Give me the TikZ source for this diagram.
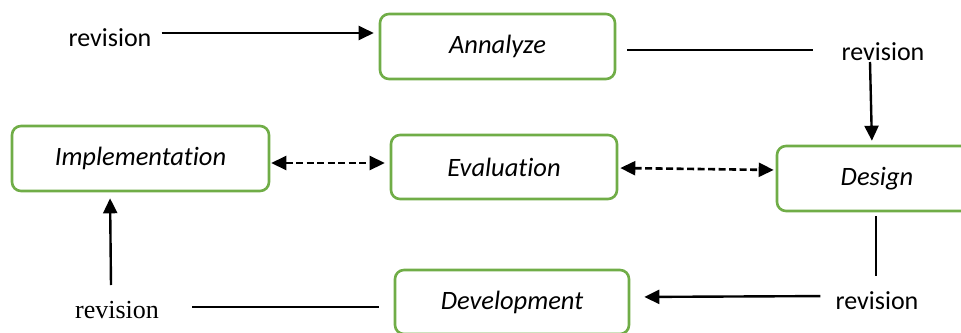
\documentclass[tikz,border=0pt]{standalone}
\usepackage{fontspec}
\setmainfont[Ligatures=NoCommon]{Carlito}
\newfontfamily\serifrev{Liberation Serif}
\usetikzlibrary{arrows.meta,calc}
\definecolor{boxgreen}{HTML}{70AD47}
\begin{document}
\begin{tikzpicture}[x=1pt,y=-1pt,
  box/.style={draw=boxgreen,line width=2.6pt,rounded corners=9pt,fill=white,
    font=\fontsize{26.5}{30}\selectfont\itshape,inner sep=0pt},
  rev/.style={font=\fontsize{26}{30}\selectfont,inner sep=0pt},
  tip/.tip={Triangle[length=15pt,width=14pt]},
  arr/.style={line width=2.4pt,-tip},
  darr/.style={line width=2.6pt,dash pattern=on 7pt off 3.5pt,tip-tip},
  ln/.style={line width=1.8pt}]
\useasboundingbox (0,0) rectangle (961,332);
\clip (0,0) rectangle (961,332);
\node[box,minimum width=235pt,minimum height=65pt] (an) at (497.5,46.5) {Annalyze};
\node[box,minimum width=257pt,minimum height=65pt] (im) at (140.5,158.5) {Implementation};
\node[box,minimum width=226pt,minimum height=64pt] (ev) at (504,167) {Evaluation};
\node[box,minimum width=200pt,minimum height=65pt] (de) at (877,178.5) {Design};
\node[box,minimum width=234pt,minimum height=64pt] (dv) at (512,302) {Development};
\node[rev] (r1) at (110,38) {revision};
\node[rev] (r2) at (883,52) {revision};
\node[rev] (r3) at (877,301) {revision};
\node[rev,font=\fontsize{26}{30}\selectfont\serifrev] (r4) at (117,310) {revision};
\coordinate (c1) at (813,50);
\coordinate (c2) at (870,62);
\coordinate (c3) at (876,276);
\coordinate (c4) at (192,307);
\coordinate (c5) at (111,285);
\draw[arr,shorten <=10pt,shorten >=5pt] (r1.east |- 0,33) -- (an.west |- 0,33);
\draw[line width=1.4pt,shorten <=11pt] (an.east |- 0,50) -- (c1);
\draw[arr,shorten >=4pt] (c2) -- (de.north -| 872,0);
\draw[darr,shorten <=1pt,shorten >=5pt] (im.east |- 0,163) -- (ev.west |- 0,163);
\draw[darr,shorten <=2pt,shorten >=2pt] (ev.east |- 0,168) -- (de.west |- 0,170);
\draw[ln,shorten <=4pt] (de.south -| c3) -- (c3);
\draw[arr,shorten <=15pt,shorten >=14pt] (r3.west |- 0,296) -- (dv.east |- 0,297);
\draw[ln,shorten <=15pt] (dv.west |- c4) -- (c4);
\draw[arr,shorten >=6pt] (c5) -- (im.south -| 110,0);
\end{tikzpicture}
\end{document}
